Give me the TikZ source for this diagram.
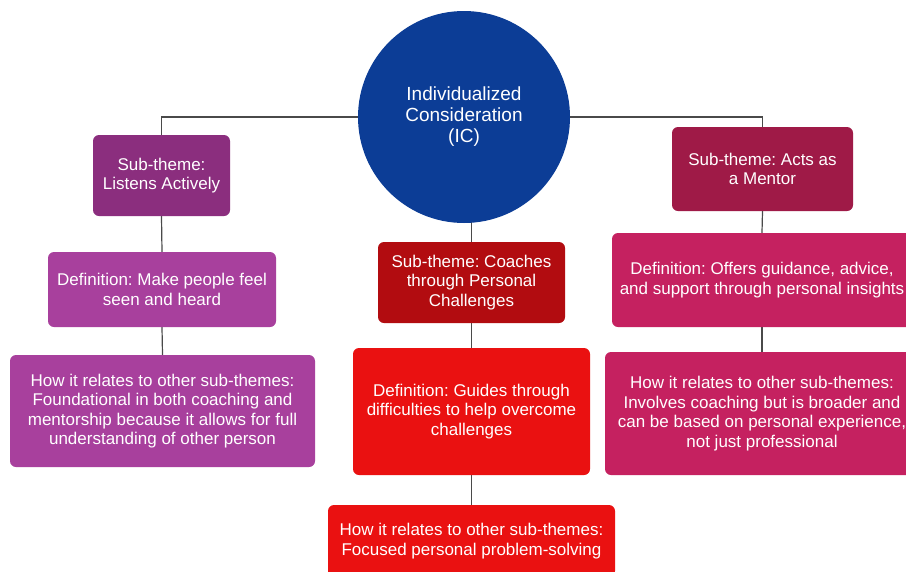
\documentclass[tikz,border=0pt]{standalone}
\usepackage{fontspec}
\setmainfont{Liberation Sans}
\frenchspacing
\usetikzlibrary{backgrounds}
\definecolor{icblue}{HTML}{0C3D96}
\definecolor{laHead}{HTML}{8B2E7E}
\definecolor{laBody}{HTML}{A8409D}
\definecolor{meHead}{HTML}{9F1A47}
\definecolor{meBody}{HTML}{C52160}
\definecolor{coHead}{HTML}{B20C10}
\definecolor{coBody}{HTML}{EA1111}
\definecolor{linkgray}{HTML}{4A4A4A}
\tikzset{
  card/.style={rectangle, rounded corners=6pt, inner sep=0pt, text=white,
    align=center, font=\fontsize{17}{19.5}\selectfont},
  link/.style={draw=linkgray, line width=1.2pt}
}
\begin{document}
\begin{tikzpicture}[x=1pt,y=-1pt]
\useasboundingbox (0,0) rectangle (906,571);
\clip (0,0) rectangle (906,571);

% central concept
\node[circle, fill=icblue, minimum size=212pt, inner sep=0pt, text=white,
  align=center, font=\fontsize{19}{21}\selectfont] (ic) at (464,117)
  {Individualized\\Consideration\\(IC)};

% left branch
\node[card, fill=laHead, minimum width=137pt, minimum height=81pt] (la) at (161.5,175.5)
  {Sub-theme:\\Listens Actively};
\node[card, fill=laBody, minimum width=228pt, minimum height=75pt] (ladef) at (162,289.5)
  {Definition: Make people feel\\seen and heard};
\node[card, fill=laBody, minimum width=305pt, minimum height=112pt] (larel) at (162.5,411)
  {How it relates to other sub-themes:\\Foundational in both coaching and\\mentorship because it allows for full\\understanding of other person};

% middle branch
\node[card, fill=coHead, minimum width=187pt, minimum height=81pt] (co) at (471.5,282.5)
  {Sub-theme: Coaches\\through Personal\\Challenges};
\node[card, fill=coBody, minimum width=237pt, minimum height=127pt] (codef) at (471.5,411.5)
  {Definition: Guides through\\difficulties to help overcome\\challenges};
\node[card, fill=coBody, minimum width=287pt, minimum height=72pt] (corel) at (471.5,541)
  {How it relates to other sub-themes:\\Focused personal problem-solving};

% right branch
\node[card, fill=meHead, minimum width=181pt, minimum height=84pt] (me) at (762.5,169)
  {Sub-theme: Acts as\\a Mentor};
\node[card, fill=meBody, minimum width=300pt, minimum height=94pt] (medef) at (762,280)
  {Definition: Offers guidance, advice,\\and support through personal insights};
\node[card, fill=meBody, minimum width=314pt, minimum height=123pt] (merel) at (762,413.5)
  {How it relates to other sub-themes:\\Involves coaching but is broader and\\can be based on personal experience,\\not just professional};

% white page and connectors, kept behind the shapes
\begin{pgfonlayer}{background}
  \fill[white] (0,0) rectangle (906,571);
  \draw[link] (la.north) |- (ic.center);
  \draw[link] (me.north) |- (ic.center);
  \draw[link] (co.north) -- (co.north |- ic.center);
  \draw[link] (la.south) -- (ladef.north);
  \draw[link] (ladef.south) -- (larel.north);
  \draw[link] (co.south) -- (codef.north);
  \draw[link] (codef.south) -- (corel.north);
  \draw[link] (me.south) -- (medef.north);
  \draw[link] (medef.south) -- (merel.north);
\end{pgfonlayer}
\end{tikzpicture}
\end{document}
